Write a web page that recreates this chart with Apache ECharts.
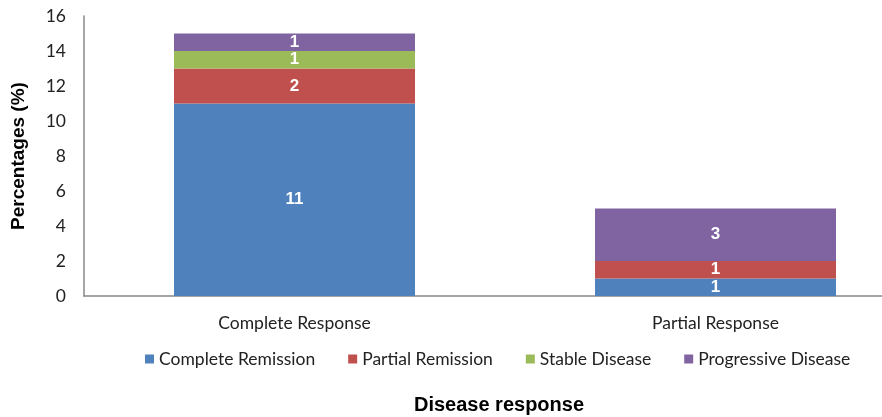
<!DOCTYPE html>
<html>
<head>
<meta charset="utf-8">
<style>
  html, body { margin: 0; padding: 0; background: #fff; }
  #chart { width: 882px; height: 417px; }
</style>
<script src="https://cdn.jsdelivr.net/npm/echarts@6/dist/echarts.min.js"></script>
</head>
<body>
<div id="chart"></div>
<script>
// Response categories along the x axis
const categories = ['Complete Response', 'Partial Response'];

// Percentages per outcome, one value per category
const completeRemission = [11, 1];
const partialRemission = [2, 1];
const stableDisease = [1, 0];
const progressiveDisease = [1, 3];

const seriesNames = ['Complete Remission', 'Partial Remission', 'Stable Disease', 'Progressive Disease'];
const seriesValues = [completeRemission, partialRemission, stableDisease, progressiveDisease];
const seriesColors = ['#4F81BD', '#C0504D', '#9BBB59', '#8064A2'];

const chart = echarts.init(document.getElementById('chart'));

const series = seriesNames.map((name, i) => ({
  name: name,
  type: 'bar',
  stack: 'total',
  barWidth: 241,
  data: seriesValues[i].map(v => (v === 0 ? null : v)),
  itemStyle: { color: seriesColors[i] },
  label: {
    show: true,
    position: 'inside',
    color: '#fff',
    fontFamily: 'Liberation Sans, Arial, sans-serif',
    fontWeight: 'bold',
    fontSize: 17
  }
}));

chart.setOption({
  animation: false,
  backgroundColor: '#fff',
  grid: { left: 84, top: 16, width: 842, height: 280, containLabel: false, outerBoundsMode: 'none' },
  legend: {
    data: seriesNames,
    top: 345,
    left: 140,
    icon: 'rect',
    itemWidth: 9,
    itemHeight: 9,
    itemGap: 33,
    textStyle: { fontFamily: 'Lato, sans-serif', fontSize: 17.5, color: '#222' }
  },
  xAxis: {
    type: 'category',
    data: categories,
    axisLine: { lineStyle: { color: '#888', width: 1.5 } },
    axisTick: { show: false },
    axisLabel: { fontFamily: 'Lato, sans-serif', fontSize: 17.5, color: '#222', margin: 18 },
    name: 'Disease response',
    nameLocation: 'middle',
    nameGap: 99,
    nameTextStyle: { fontFamily: 'Liberation Sans, Arial, sans-serif', fontWeight: 'bold', fontSize: 20, color: '#000', padding: [0, 12, 0, 0] }
  },
  yAxis: {
    type: 'value',
    min: 0,
    max: 16,
    interval: 2,
    axisLine: { show: true, lineStyle: { color: '#888', width: 1.5 } },
    axisTick: { show: false },
    splitLine: { show: false },
    axisLabel: { fontFamily: 'Lato, sans-serif', fontSize: 17.5, color: '#222', margin: 18 },
    name: 'Percentages (%)',
    nameLocation: 'middle',
    nameGap: 56,
    nameTextStyle: { fontFamily: 'Liberation Sans, Arial, sans-serif', fontWeight: 'bold', fontSize: 19, color: '#000' }
  },
  series: series
});
</script>
</body>
</html>
